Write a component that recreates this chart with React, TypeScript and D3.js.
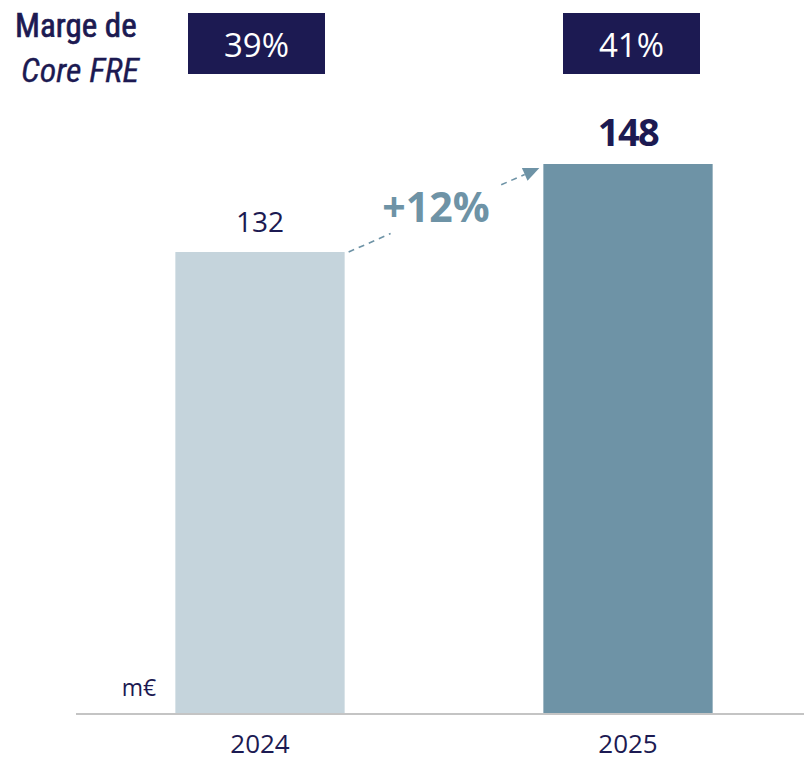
import React from "react";
import * as d3 from "d3";

const categories = ["2024", "2025"];
const values = [132, 148];
const margins = ["39%", "41%"];
const growthLabel = "+12%";
const unitLabel = "m€";
const titleLines = ["Marge de", "Core FRE"];

const W = 804;
const H = 761;
const NAVY = "#1c1a52";
const barColors = ["#c5d4dc", "#6e93a6"];
const NARROW = "'Liberation Sans Narrow', 'Roboto Condensed', sans-serif";
const SANS = "'Open Sans', sans-serif";

export default function App() {
  const x = d3.scaleBand<string>().domain(categories).range([76, 812]).paddingInner(0.54).paddingOuter(0.27);
  const y = d3.scaleLinear().domain([48.2, 148]).range([713, 164]);
  const bw = x.bandwidth();

  const x0 = (x(categories[0]) as number) + bw;
  const x1 = x(categories[1]) as number;
  const y0 = y(values[0]);
  const y1 = y(values[1]);
  const sx = x0 + 4, sy = y0, ex = x1 - 4, ey = y1 + 4;
  const lerp = (t: number) => [sx + (ex - sx) * t, sy + (ey - sy) * t];
  const [ax, ay] = lerp(0.22);
  const [bx, by] = lerp(0.8);
  const ang = Math.atan2(ey - sy, ex - sx);
  const hl = 16, hw = 7;
  const tip = [ex, ey];
  const base = [ex - hl * Math.cos(ang), ey - hl * Math.sin(ang)];
  const p1 = [base[0] + hw * Math.sin(ang), base[1] - hw * Math.cos(ang)];
  const p2 = [base[0] - hw * Math.sin(ang), base[1] + hw * Math.cos(ang)];

  return (
    <svg width={W} height={H} style={{ position: "absolute", left: 0, top: 0 }}>
      <rect width={W} height={H} fill="#fff" />
      <text x={15} y={37} fontFamily={NARROW} fontSize={33} fill={NAVY} stroke={NAVY} strokeWidth={0.7}>{titleLines[0]}</text>
      <text x={21} y={82} fontFamily={NARROW} fontStyle="italic" fontSize={34} fill={NAVY} stroke={NAVY} strokeWidth={0.3}>{titleLines[1]}</text>
      {categories.map((c, i) => {
        const cx = (x(c) as number) + bw / 2;
        const bcx = cx + (i === 0 ? -3.5 : 3.5);
        return (
          <g key={c}>
            <rect x={bcx - 68.5} y={13} width={137} height={61} fill={NAVY} />
            <text x={bcx} y={57} textAnchor="middle" fontFamily={SANS} fontSize={33} fill="#fff">{margins[i]}</text>
            <rect x={x(c)} y={y(values[i])} width={bw} height={713 - y(values[i])} fill={barColors[i]} />
            <text x={cx} y={i === 1 ? 146 : 232} textAnchor="middle" fontFamily={SANS} fontWeight={i === 1 ? 700 : 400} fontSize={i === 1 ? 38 : 28} letterSpacing={i === 1 ? -1.5 : 0} fill={NAVY}>{values[i]}</text>
            <text x={cx} y={753} textAnchor="middle" fontFamily={SANS} fontSize={26} fill={NAVY}>{c}</text>
          </g>
        );
      })}
      <line x1={sx} y1={sy} x2={ax} y2={ay} stroke="#6e93a6" strokeWidth={1.6} strokeDasharray="6 5" />
      <line x1={bx} y1={by} x2={base[0]} y2={base[1]} stroke="#6e93a6" strokeWidth={1.6} strokeDasharray="6 5" />
      <polygon points={[tip, p1, p2].map(p => p.join(",")).join(" ")} fill="#6e93a6" />
      <text x={436} y={222} textAnchor="middle" fontFamily={SANS} fontWeight={700} fontSize={41} fill="#6e93a6">{growthLabel}</text>
      <text x={139} y={696} textAnchor="middle" fontFamily={SANS} fontSize={23} fill={NAVY}>{unitLabel}</text>
      <line x1={76} x2={804} y1={714} y2={714} stroke="#c4c4c4" strokeWidth={2} />
    </svg>
  );
}
